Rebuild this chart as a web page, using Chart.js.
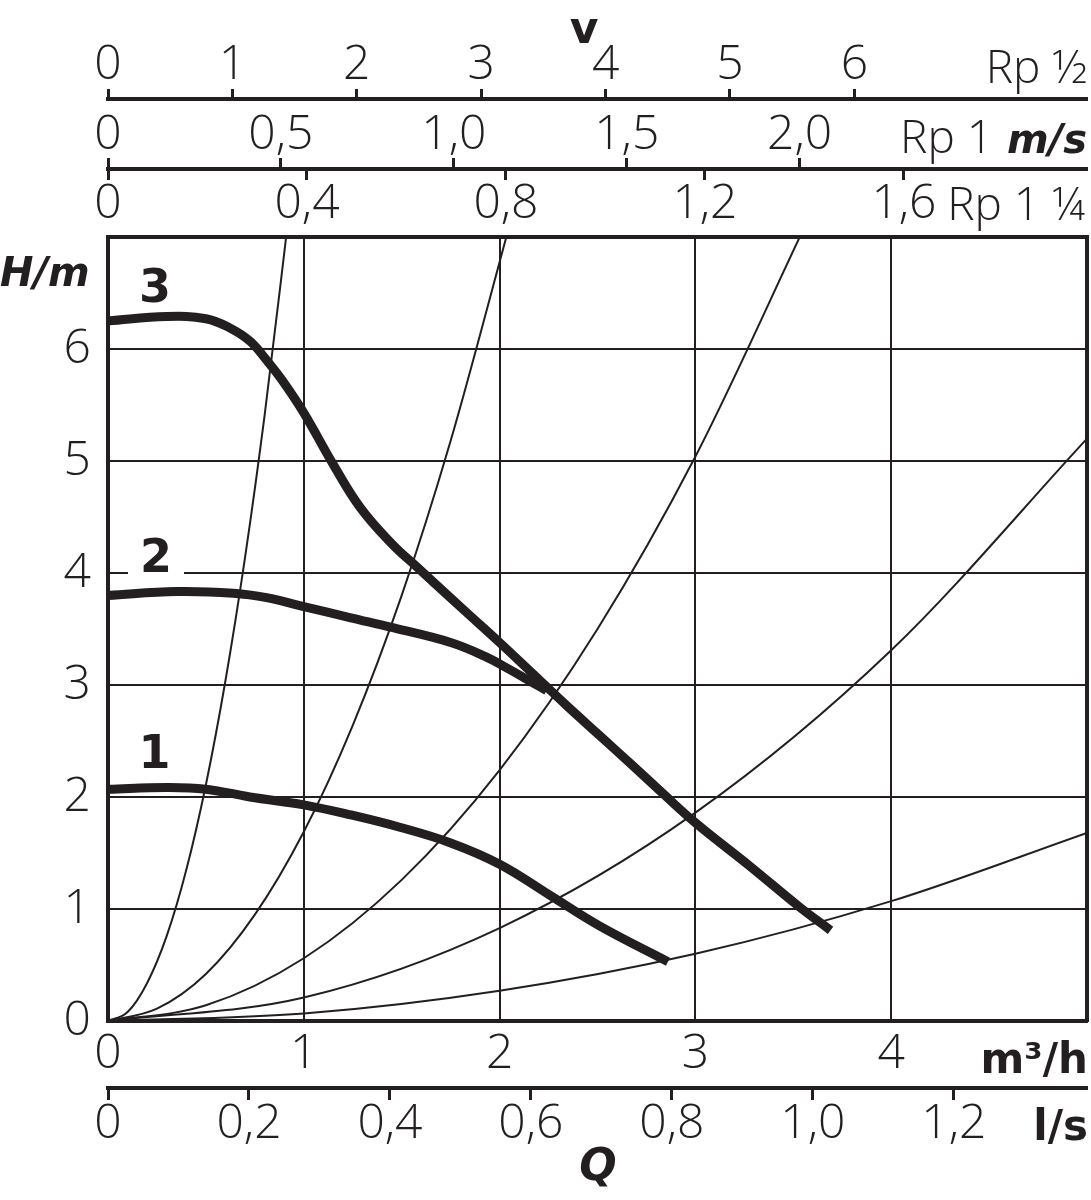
<!DOCTYPE html>
<html>
<head>
<meta charset="utf-8">
<script src="https://cdn.jsdelivr.net/npm/chart.js@4.4.0/dist/chart.umd.min.js"></script>
<style>
  html, body { margin: 0; padding: 0; background: #fff; }
</style>
</head>
<body>
<canvas id="chart" width="1091" height="1200"></canvas>
<script>
// pump curves, Q in m3/h, H in m
const curve1Q = [0, 0.3, 0.5, 0.725, 1.0, 1.24, 1.49, 1.75, 2.0, 2.26, 2.51, 2.86];
const curve1H = [2.07, 2.085, 2.07, 2.0, 1.93, 1.84, 1.73, 1.59, 1.40, 1.12, 0.85, 0.53];
const curve2Q = [0, 0.35, 0.64, 0.81, 1.0, 1.24, 1.46, 1.75, 1.92, 2.05, 2.17, 2.24];
const curve2H = [3.80, 3.835, 3.82, 3.78, 3.70, 3.60, 3.51, 3.38, 3.26, 3.14, 3.02, 2.95];
const curve3Q = [0, 0.3, 0.5, 0.62, 0.725, 0.81, 0.89, 1.0, 1.15, 1.29, 1.45, 1.58, 1.83, 2.0, 2.17, 2.34, 2.51, 2.68, 2.835, 3.0, 3.28, 3.53, 3.69];
const curve3H = [6.25, 6.29, 6.27, 6.19, 6.07, 5.90, 5.72, 5.43, 4.97, 4.58, 4.26, 4.05, 3.65, 3.38, 3.10, 2.82, 2.55, 2.28, 2.03, 1.77, 1.38, 1.02, 0.81];

// system curves (thin lines)
const sys1Q = [0, 0.1, 0.2, 0.3, 0.4, 0.5, 0.6, 0.7, 0.8, 0.92];
const sys1H = [0, 0.08, 0.34, 0.76, 1.35, 2.11, 3.04, 4.14, 5.41, 7.15];
const sys2Q = [0, 0.25, 0.5, 0.75, 1.0, 1.25, 1.5, 1.75, 2.05];
const sys2H = [0, 0.11, 0.42, 0.95, 1.69, 2.64, 3.80, 5.18, 7.10];
const sys3Q = [0, 0.5, 1.0, 1.5, 2.0, 2.5, 3.0, 3.56];
const sys3H = [0, 0.14, 0.56, 1.26, 2.24, 3.50, 5.04, 7.10];
const sys4Q = [0, 1, 2, 3, 4, 5];
const sys4H = [0, 0.21, 0.83, 1.86, 3.31, 5.20];
const sys5Q = [0, 1, 2, 3, 4, 5];
const sys5H = [0, 0.067, 0.27, 0.60, 1.07, 1.68];

// curve numbers
const curveNames = ['1', '2', '3'];
const curveNameQ = [0.237, 0.245, 0.24];
const curveNameH = [2.37, 4.12, 6.53];

// tick labels
const flowTicks = [0, 1, 2, 3, 4];
const litreTicks = [0, 0.2, 0.4, 0.6, 0.8, 1.0, 1.2];
const headTicks = [0, 1, 2, 3, 4, 5, 6];
const rpHalfTicks = [0, 1, 2, 3, 4, 5, 6];
const rp1Ticks = [0, 0.5, 1.0, 1.5, 2.0];
const rp114Ticks = [0, 0.4, 0.8, 1.2, 1.6];

const ink = '#231f20';
const family = '"Open Sans", "DejaVu Sans", sans-serif';
const tickFont = { family: family, size: 48, weight: 300, lineHeight: 1 };

function points(qs, hs) {
    return qs.map((q, i) => ({ x: q, y: hs[i] }));
}
function fmt1(v) {
    return v === 0 ? '0' : v.toFixed(1).replace('.', ',');
}
function fixTicks(list) {
    return function (scale) { scale.ticks = list.map(v => ({ value: v })); };
}
function fixSize(n) {
    return function (scale) {
        if (scale.isHorizontal()) scale.height = n; else scale.width = n;
    };
}

function thin(qs, hs) {
    return { data: points(qs, hs), borderColor: ink, borderWidth: 2, pointRadius: 0,
             cubicInterpolationMode: 'monotone', clip: 0 };
}
function thick(qs, hs) {
    return { data: points(qs, hs), borderColor: ink, borderWidth: 9, pointRadius: 0,
             tension: 0.4, borderCapStyle: 'butt', borderJoinStyle: 'round' };
}

// extra texts: units, names, curve numbers
const textPlugin = {
    id: 'texts',
    afterDraw(chart) {
        const ctx = chart.ctx;
        const xs = chart.scales.x, ys = chart.scales.y;
        ctx.save();
        ctx.fillStyle = ink;
        ctx.textBaseline = 'alphabetic';

        ctx.font = 'italic bold 40px "DejaVu Sans", sans-serif';
        ctx.textAlign = 'left';
        ctx.fillText('H/m', 0, 286);

        ctx.font = 'bold 44px "DejaVu Sans", sans-serif';
        ctx.textAlign = 'center';
        ctx.fillText('v', 584, 43);

        ctx.font = '300 46px ' + family;
        ctx.textAlign = 'right';
        ctx.fillText('Rp ½', 1087, 83);
        ctx.fillText('Rp 1', 993, 153);
        ctx.fillText('Rp 1 ¼', 1085, 220);

        ctx.font = 'italic bold 40px "DejaVu Sans", sans-serif';
        ctx.fillText('m/s', 1087, 153);

        ctx.font = 'bold 42px "DejaVu Sans", sans-serif';
        ctx.fillText('m³/h', 1088, 1073);
        ctx.fillText('l/s', 1088, 1140);

        ctx.font = 'italic bold 44px "DejaVu Sans", sans-serif';
        ctx.textAlign = 'center';
        ctx.fillText('Q', 598, 1180);

        ctx.font = 'bold 46px "DejaVu Sans", sans-serif';
        ctx.textBaseline = 'middle';
        curveNames.forEach((name, i) => {
            const px = xs.getPixelForValue(curveNameQ[i]);
            const py = ys.getPixelForValue(curveNameH[i]);
            ctx.fillStyle = '#fff';
            ctx.fillRect(px - 28, py - 20, 56, 40);
            ctx.fillStyle = ink;
            ctx.fillText(name, px, py);
        });
        ctx.restore();
    }
};

new Chart(document.getElementById('chart'), {
    type: 'line',
    data: {
        datasets: [
            thin(sys1Q, sys1H), thin(sys2Q, sys2H), thin(sys3Q, sys3H),
            thin(sys4Q, sys4H), thin(sys5Q, sys5H),
            thick(curve1Q, curve1H), thick(curve2Q, curve2H), thick(curve3Q, curve3H)
        ]
    },
    options: {
        responsive: false,
        animation: false,
        layout: { padding: 0 },
        plugins: { legend: { display: false }, tooltip: { enabled: false } },
        scales: {
            x: {
                type: 'linear', position: 'bottom', min: 0, max: 5,
                afterBuildTicks: fixTicks(flowTicks), afterFit: fixSize(67),
                grid: { color: ink, lineWidth: 2, drawTicks: false },
                border: { color: ink, width: 4 },
                ticks: { font: tickFont, color: ink, padding: 9, maxRotation: 0, autoSkip: false,
                         callback: v => String(v) }
            },
            xls: {
                type: 'linear', position: 'bottom', min: 0, max: 5 / 3.6,
                afterBuildTicks: fixTicks(litreTicks), afterFit: fixSize(112),
                grid: { drawOnChartArea: false, tickLength: 12, tickWidth: 3, tickColor: ink },
                border: { color: ink, width: 4 },
                ticks: { font: tickFont, color: ink, padding: 0, maxRotation: 0, autoSkip: false,
                         callback: fmt1 }
            },
            rp114: {
                type: 'linear', position: 'top', weight: 1, min: 0, max: 1.968,
                afterBuildTicks: fixTicks(rp114Ticks), afterFit: fixSize(68),
                grid: { drawOnChartArea: false, tickLength: 68, tickWidth: 3, tickColor: ink,
                        tickBorderDash: [11, 200] },
                border: { color: ink, width: 4 },
                ticks: { font: tickFont, color: ink, padding: -59, maxRotation: 0, autoSkip: false,
                         callback: fmt1 }
            },
            rp1: {
                type: 'linear', position: 'top', weight: 2, min: 0, max: 2.831,
                afterBuildTicks: fixTicks(rp1Ticks), afterFit: fixSize(70),
                grid: { drawOnChartArea: false, tickLength: 11, tickWidth: 3, tickColor: ink },
                border: { color: ink, width: 4 },
                ticks: { font: tickFont, color: ink, padding: -1, maxRotation: 0, autoSkip: false,
                         callback: fmt1 }
            },
            rpHalf: {
                type: 'linear', position: 'top', weight: 3, min: 0, max: 7.87,
                afterBuildTicks: fixTicks(rpHalfTicks), afterFit: fixSize(99),
                grid: { drawOnChartArea: false, tickLength: 10, tickWidth: 3, tickColor: ink },
                border: { color: ink, width: 4 },
                ticks: { font: tickFont, color: ink, padding: 0, maxRotation: 0, autoSkip: false,
                         callback: v => String(v) }
            },
            y: {
                type: 'linear', position: 'left', min: 0, max: 7,
                afterBuildTicks: fixTicks(headTicks), afterFit: fixSize(108),
                grid: { color: ink, lineWidth: 2, drawTicks: false },
                border: { color: ink, width: 4 },
                ticks: { font: tickFont, color: ink, padding: 17, callback: v => String(v) }
            },
            yR: {
                type: 'linear', position: 'right', min: 0, max: 7,
                afterFit: fixSize(4),
                grid: { drawOnChartArea: false, drawTicks: false },
                border: { color: ink, width: 4 },
                ticks: { display: false }
            }
        }
    },
    plugins: [textPlugin]
});
</script>
</body>
</html>
